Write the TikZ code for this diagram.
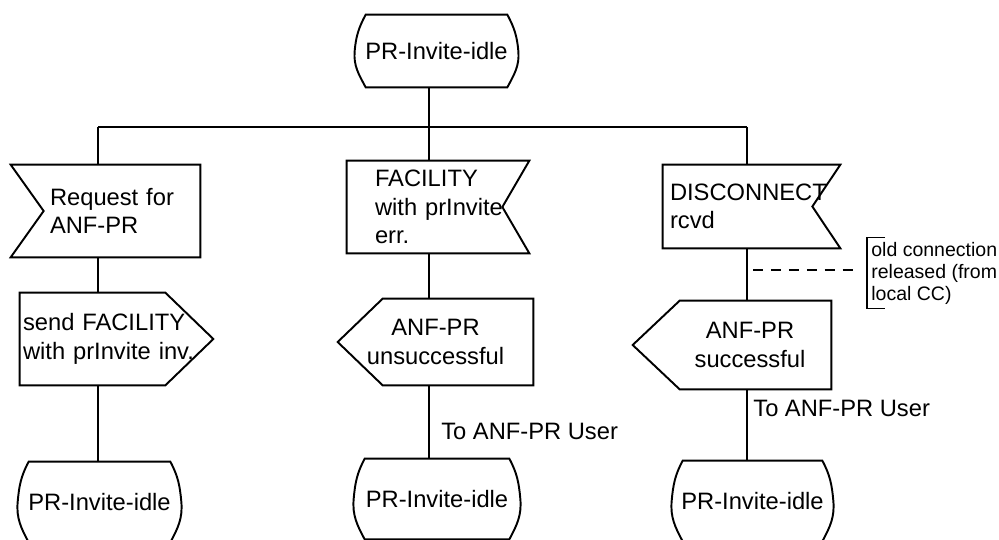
\documentclass[tikz,border=0pt]{standalone}
\usepackage{fontspec}
\setmainfont{Liberation Sans}
\tikzstyle{sdl} = [line width=1.1pt]
\tikzstyle{sym} = [rectangle, inner sep=0pt, font=\fontsize{13.5}{16.2}\selectfont]
\tikzstyle{state} = [sym, align=center, minimum height=1.6cm]
\tikzstyle{input} = [sym, align=left, minimum height=1.84cm]
\tikzstyle{output} = [sym, align=center]
\tikzstyle{note} = [rectangle, inner xsep=0.08cm, inner ysep=0pt, align=left, minimum height=1.4cm, font=\fontsize{11.1}{12.5}\selectfont]
\tikzstyle{user} = [sym, anchor=west]
% outlines drawn round the named nodes
\newcommand{\inputW}[2]{\draw[sdl] (#1.north west) -- (#1.north east) -- (#1.south east) -- (#1.south west) -- ([xshift=#2]#1.west) -- cycle;}
\newcommand{\inputE}[2]{\draw[sdl] (#1.north west) -- (#1.north east) -- ([xshift=-#2]#1.east) -- (#1.south east) -- (#1.south west) -- cycle;}
\newcommand{\outputE}[2]{\draw[sdl] (#1.north west) -- ([xshift=-#2]#1.north east) -- (#1.east) -- ([xshift=-#2]#1.south east) -- (#1.south west) -- cycle;}
\newcommand{\outputW}[2]{\draw[sdl] ([xshift=#2]#1.north west) -- (#1.north east) -- (#1.south east) -- ([xshift=#2]#1.south west) -- (#1.west) -- cycle;}
\newcommand{\stateline}[1]{\draw[sdl] ([xshift=0.22cm]#1.north west) -- ([xshift=-0.22cm]#1.north east) to[out=-62,in=95] (#1.east) to[out=-85,in=62] ([xshift=-0.22cm]#1.south east) -- ([xshift=0.22cm]#1.south west) to[out=118,in=-95] (#1.west) to[out=85,in=-118] ([xshift=0.22cm]#1.north west) -- cycle;}

\begin{document}
\begin{tikzpicture}[x=0.02cm,y=-0.02cm]
\useasboundingbox (0,0) rectangle (999,540);
%
\node (idle0) [state, minimum width=3.26cm, minimum height=1.44cm] at (436.5,51) {PR-Invite-idle};
%
\node (req) [input, text width=2.22cm, inner xsep=0.78cm] at (105.5,211) {\mbox{Request for}\\ANF-PR};
\node (fac) [input, text width=2.52cm, inner xsep=0.56cm] at (438,207) {FACILITY\\\mbox{with prInvite}\\err.};
\node (disc) [input, text width=3.26cm, inner xsep=0.14cm, minimum height=1.66cm] at (751.5,206.5) {DISCONNECT\\rcvd};
%
\node (send) [input, text width=3.74cm, inner xsep=0.06cm] at (116.5,339) {send FACILITY\\with prInvite inv.};
\node (unsucc) [output, text width=3.9cm, minimum height=1.72cm] at (435.5,342) {ANF-PR\\unsuccessful};
\node (succ) [output, text width=3.96cm, minimum height=1.76cm] at (732,345) {\hspace*{0.72cm}ANF-PR\\\hspace*{0.72cm}successful};
%
\node (idle1) [state, minimum width=3.26cm] at (99.5,502) {PR-Invite-idle};
\node (idle2) [state, minimum width=3.32cm] at (437,499) {PR-Invite-idle};
\node (idle3) [state, minimum width=3.22cm] at (752.5,501) {PR-Invite-idle};
%
\node (user2) [user] at (441,431) {To ANF-PR User};
\node (user3) [user] at (753,408) {To ANF-PR User};
\node (cc) [note, anchor=west] at (867,273) {old connection\\released (from\\local CC)};
%
\stateline{idle0}
\inputW{req}{0.66cm}
\inputE{fac}{0.54cm}
\inputE{disc}{0.56cm}
\outputE{send}{0.96cm}
\outputW{unsucc}{0.9cm}
\outputW{succ}{0.94cm}
\foreach \s in {idle1,idle2,idle3} {\stateline{\s}}
%
\coordinate (bar1) at (98,127);
\coordinate (bar2) at (429,127);
\coordinate (bar3) at (747,127);
\coordinate (rel) at (753,270);
\draw[sdl] (idle0.south -| bar2) -- (bar2);
\draw[sdl] (bar1) -- (bar3);
\draw[sdl] (bar1) -- (req.north -| bar1);
\draw[sdl] (bar2) -- (fac.north -| bar2);
\draw[sdl] (bar3) -- (disc.north -| bar3);
\draw[sdl] (req.south -| bar1) -- (send.north -| bar1);
\draw[sdl] (fac.south -| bar2) -- (unsucc.north -| bar2);
\draw[sdl] (disc.south -| bar3) -- (succ.north -| bar3);
\draw[sdl] (send.south -| bar1) -- (idle1.north -| bar1);
\draw[sdl] (unsucc.south -| bar2) -- (idle2.north -| bar2);
\draw[sdl] (succ.south -| bar3) -- (idle3.north -| bar3);
%
\draw[sdl, dash pattern=on 5.7pt off 4.5pt] (rel) -- ([xshift=-0.14cm]rel -| cc.west);
\draw[line width=0.8pt] ([xshift=0.36cm]cc.north west) -- (cc.north west) -- (cc.south west) -- ([xshift=0.36cm]cc.south west);
\end{tikzpicture}
\end{document}
